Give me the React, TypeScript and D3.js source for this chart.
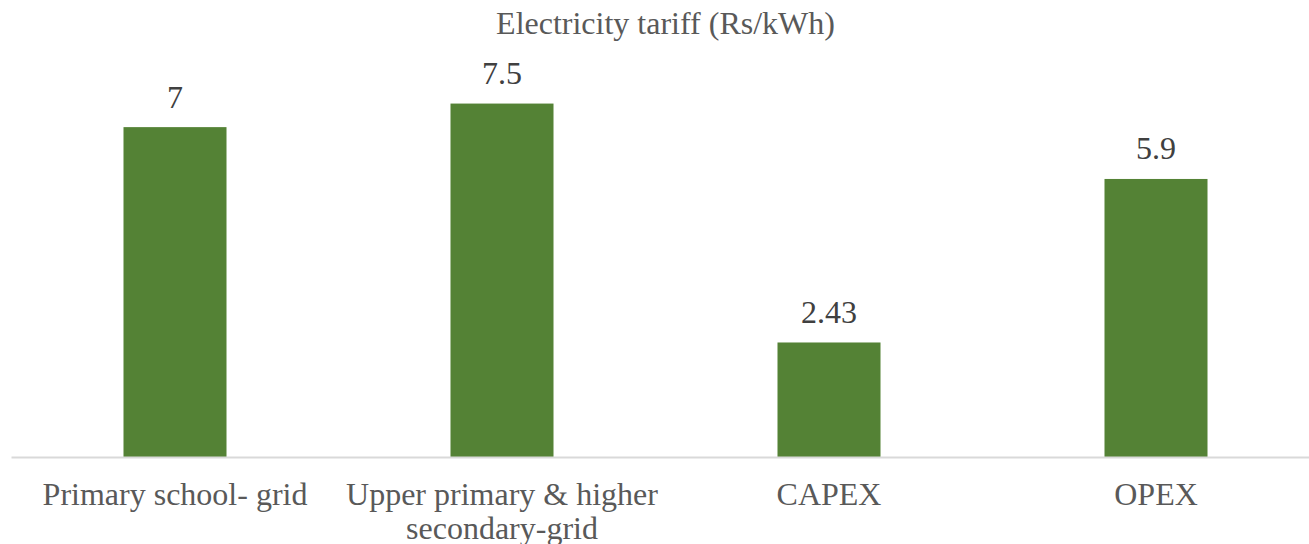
import React from "react";
import * as d3 from "d3";

// Chart data
const categories: string[][] = [
  ["Primary school- grid"],
  ["Upper primary & higher", "secondary-grid"],
  ["CAPEX"],
  ["OPEX"],
];
const values: number[] = [7, 7.5, 2.43, 5.9];
const valueLabels: string[] = ["7", "7.5", "2.43", "5.9"];
const title = "Electricity tariff (Rs/kWh)";

const WIDTH = 1309;
const HEIGHT = 544;
const FONT = "'Liberation Serif', 'Times New Roman', serif";

export default function App() {
  const keys = categories.map((_, i) => String(i));
  const x = d3
    .scaleBand<string>()
    .domain(keys)
    .range([11.5, 1319.5])
    .paddingInner(0.685)
    .paddingOuter(0.3425);
  const y = d3.scaleLinear().domain([0, 8]).range([457, 80]);
  const centerX = (11.5 + 1319.5) / 2;

  return (
    <svg
      width={WIDTH}
      height={HEIGHT}
      style={{ position: "absolute", left: 0, top: 0, background: "#fff" }}
      fontFamily={FONT}
    >
      <text x={centerX} y={34} textAnchor="middle" fontSize={32} fill="#595959">
        {title}
      </text>

      {values.map((v, i) => {
        const bx = x(keys[i])!;
        const bw = x.bandwidth();
        return (
          <g key={i}>
            <rect x={bx} y={y(v)} width={bw} height={y(0) - y(v)} fill="#548235" />
            <text
              x={bx + bw / 2}
              y={y(v) - 19.5}
              textAnchor="middle"
              fontSize={32}
              fill="#404040"
            >
              {valueLabels[i]}
            </text>
          </g>
        );
      })}

      <line x1={11.5} x2={1319.5} y1={457.5} y2={457.5} stroke="#d9d9d9" strokeWidth={2} />

      {categories.map((lines, i) => {
        const cx = x(keys[i])! + x.bandwidth() / 2;
        return (
          <text key={i} x={cx} y={505} textAnchor="middle" fontSize={32} fill="#595959">
            {lines.map((ln, j) => (
              <tspan key={j} x={cx} dy={j === 0 ? 0 : 34}>
                {ln}
              </tspan>
            ))}
          </text>
        );
      })}
    </svg>
  );
}
